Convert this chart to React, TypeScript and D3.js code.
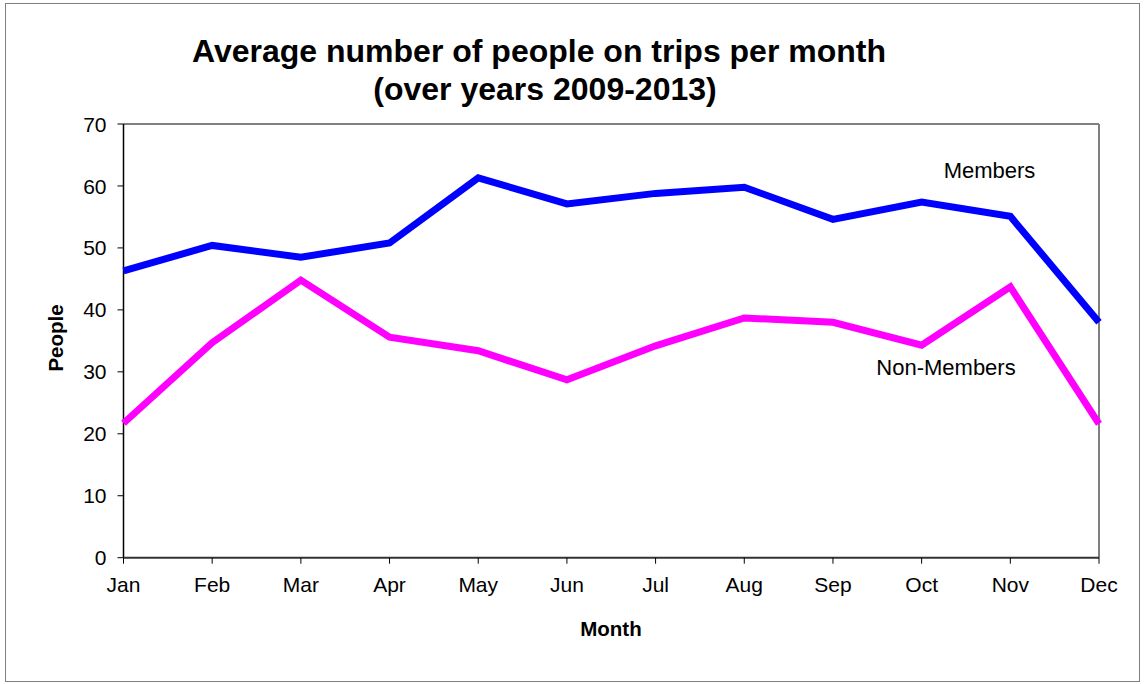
import React from "react";
import * as d3 from "d3";

const months = ["Jan", "Feb", "Mar", "Apr", "May", "Jun", "Jul", "Aug", "Sep", "Oct", "Nov", "Dec"];
const members = [46.3, 50.4, 48.5, 50.8, 61.3, 57.1, 58.8, 59.8, 54.6, 57.4, 55.1, 38.0];
const nonMembers = [21.7, 34.7, 44.8, 35.6, 33.4, 28.7, 34.2, 38.7, 38.0, 34.3, 43.7, 21.6];
const yTicks = [0, 10, 20, 30, 40, 50, 60, 70];

const W = 1144;
const H = 684;
const left = 123.5;
const right = 1099;
const top = 124;
const bottom = 557.7;
const FONT = "'Liberation Sans', Arial, sans-serif";

export default function App() {
  const x = d3.scalePoint<string>().domain(months).range([left, right]);
  const y = d3.scaleLinear().domain([0, 70]).range([bottom, top]);
  const line = d3
    .line<number>()
    .x((_, i) => x(months[i]) as number)
    .y((d) => y(d));

  return (
    <svg
      width={W}
      height={H}
      style={{ position: "absolute", left: 0, top: 0, background: "#fff" }}
      fontFamily={FONT}
    >
      <rect x={5.5} y={3.5} width={1134} height={678} fill="#fff" stroke="#808080" strokeWidth={1} />
      <text x={539} y={61.5} textAnchor="middle" fontSize={32} fontWeight="bold" fill="#000">
        Average number of people on trips per month
      </text>
      <text x={545} y={100} textAnchor="middle" fontSize={32} fontWeight="bold" fill="#000">
        (over years 2009-2013)
      </text>
      {/* plot frame */}
      <line x1={left} x2={right} y1={top} y2={top} stroke="#808080" strokeWidth={2} />
      <line x1={right} x2={right} y1={top} y2={bottom} stroke="#808080" strokeWidth={2} />
      <line x1={left} x2={left} y1={top} y2={bottom} stroke="#000" strokeWidth={1.5} />
      <line x1={left} x2={right} y1={bottom} y2={bottom} stroke="#333" strokeWidth={2} />
      {yTicks.map((t) => (
        <g key={t}>
          <line x1={left - 6} x2={left} y1={y(t)} y2={y(t)} stroke="#000" strokeWidth={1} />
          <text x={left - 17} y={y(t)} dy="0.36em" textAnchor="end" fontSize={21} fill="#000">
            {t}
          </text>
        </g>
      ))}
      {months.map((m) => (
        <g key={m}>
          <line x1={x(m)} x2={x(m)} y1={bottom} y2={bottom + 6} stroke="#000" strokeWidth={1} />
          <text x={x(m)} y={bottom + 34} textAnchor="middle" fontSize={21} fill="#000">
            {m}
          </text>
        </g>
      ))}
      <text x={611} y={636} textAnchor="middle" fontSize={20.5} fontWeight="bold" fill="#000">
        Month
      </text>
      <text
        transform={`translate(63,${338}) rotate(-90)`}
        textAnchor="middle"
        fontSize={20.5}
        fontWeight="bold"
        fill="#000"
      >
        People
      </text>
      <path d={line(members) || ""} fill="none" stroke="#0000FF" strokeWidth={7} strokeLinejoin="miter" />
      <path d={line(nonMembers) || ""} fill="none" stroke="#FF00FF" strokeWidth={7} strokeLinejoin="miter" />
      <text x={989.5} y={178.3} textAnchor="middle" fontSize={22} fill="#000">
        Members
      </text>
      <text x={946} y={375} textAnchor="middle" fontSize={22} fill="#000">
        Non-Members
      </text>
    </svg>
  );
}
